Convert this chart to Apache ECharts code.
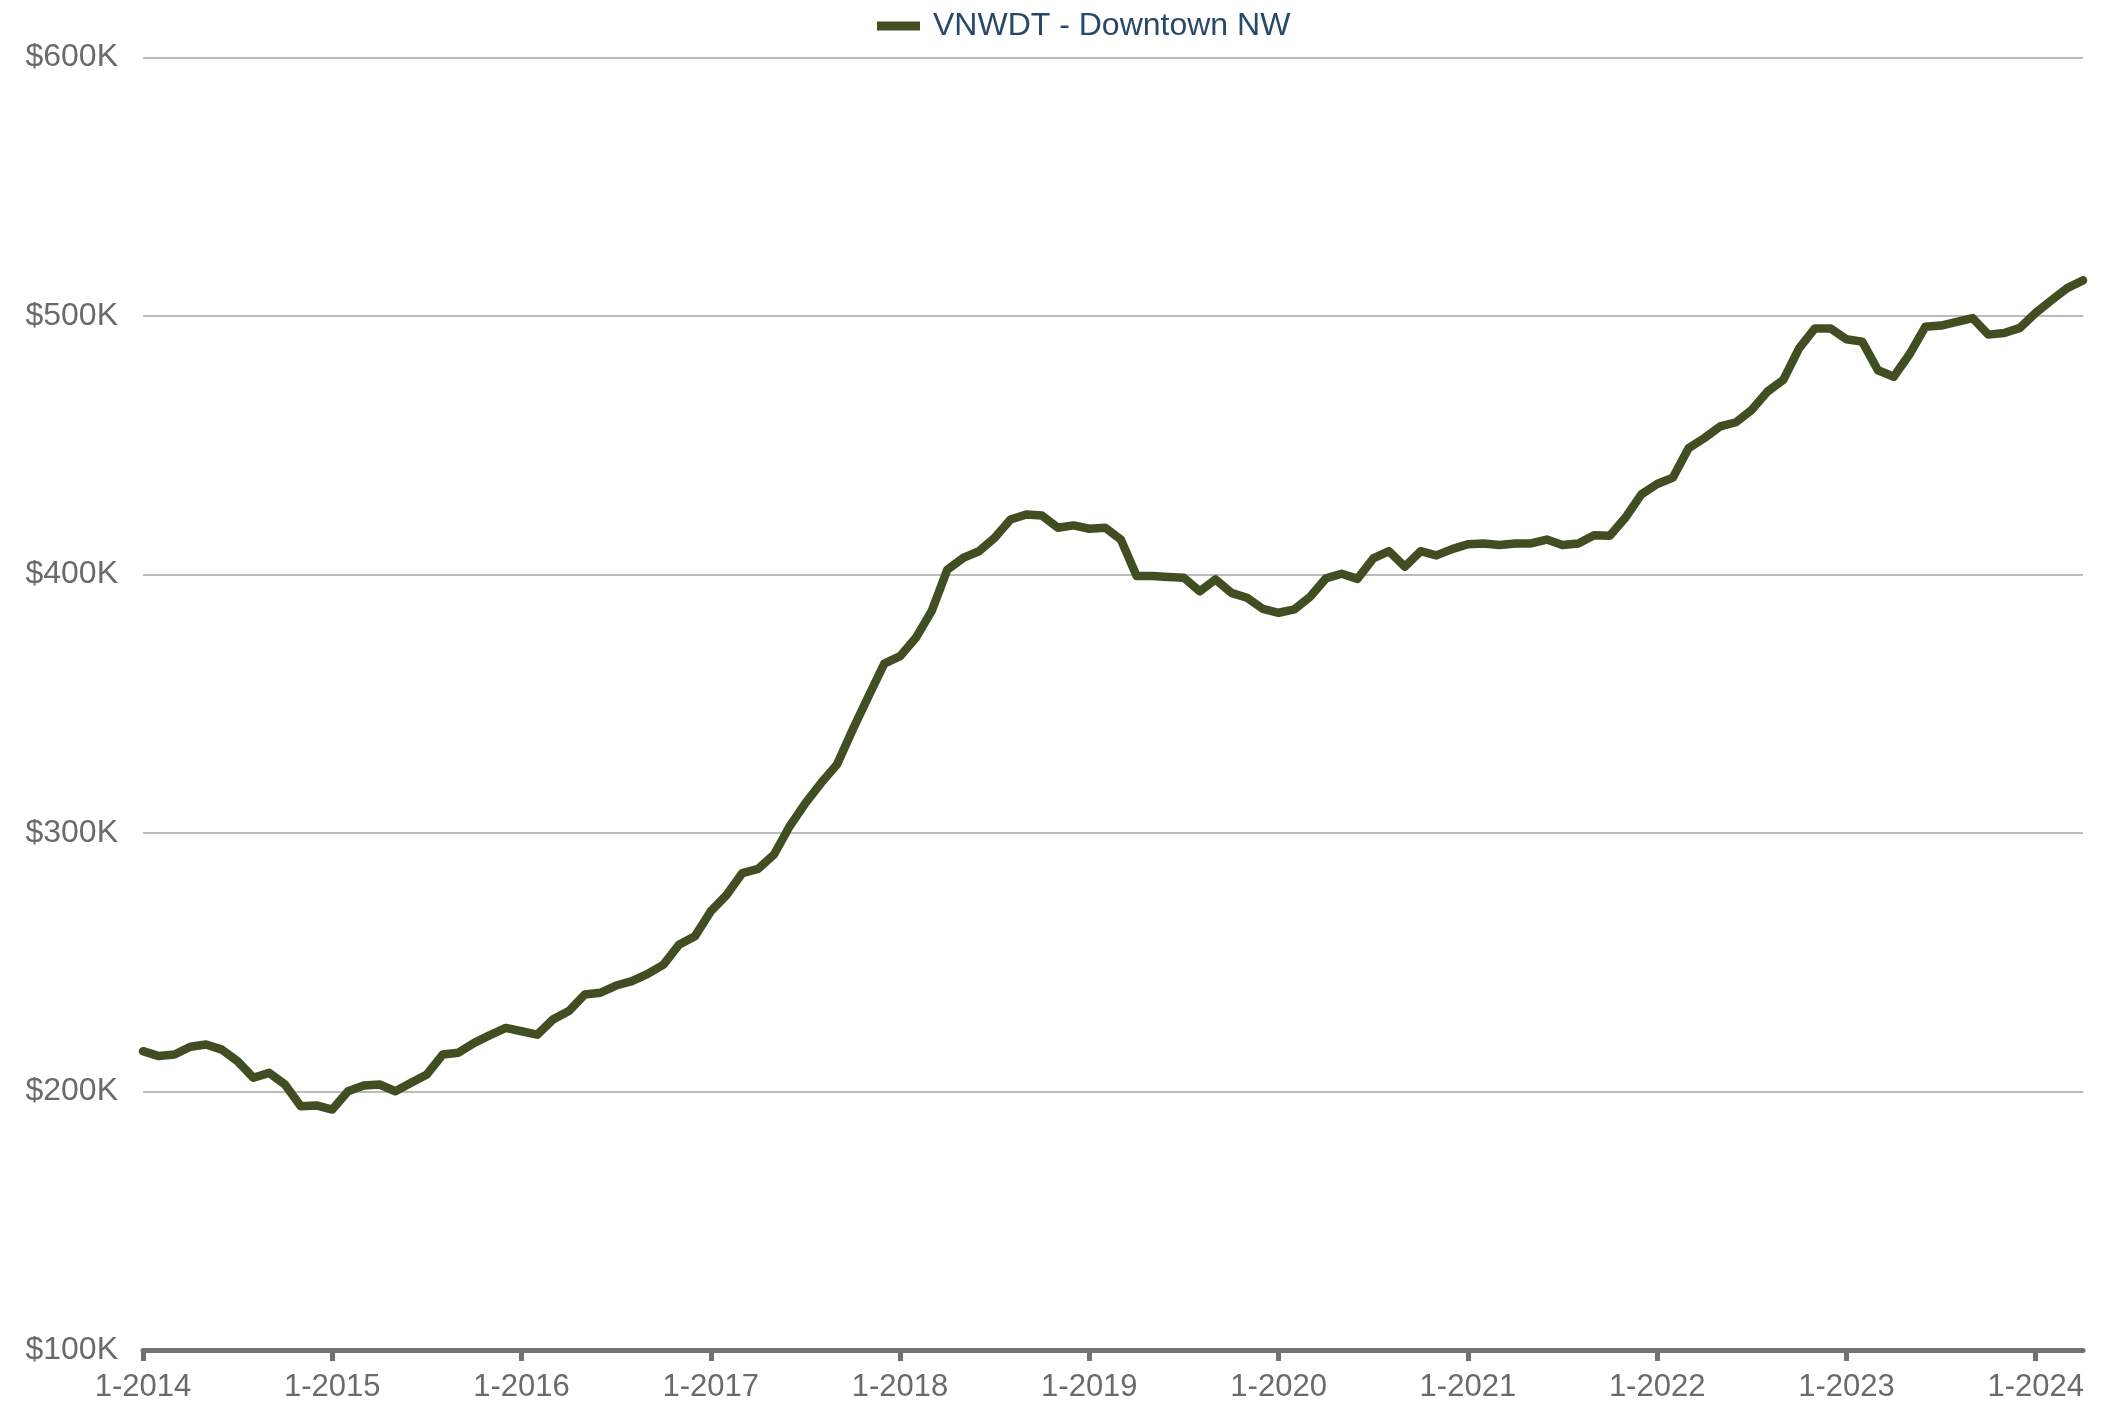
<!DOCTYPE html>
<html>
<head>
<meta charset="utf-8">
<style>
  html, body { margin: 0; padding: 0; background: #ffffff; }
  #chart { width: 2102px; height: 1410px; }
</style>
<script src="https://cdn.jsdelivr.net/npm/echarts@6/dist/echarts.min.js"></script>
</head>
<body>
<div id="chart"></div>
<script>
// Months from 1-2014 through 4-2024
const years = [2014, 2015, 2016, 2017, 2018, 2019, 2020, 2021, 2022, 2023, 2024];
const lastMonth2024 = 4;
const categories = [];
years.forEach(y => {
  const maxM = (y === 2024) ? lastMonth2024 : 12;
  for (let m = 1; m <= maxM; m++) categories.push(m + '-' + y);
});

const seriesName = 'VNWDT - Downtown NW';

// Values in thousands of dollars
const values2014 = [215.6, 213.7, 214.3, 217.3, 218.2, 216.2, 211.7, 205.3, 207.2, 202.7, 194.3, 194.6];
const values2015 = [193.0, 200.1, 202.3, 202.7, 200.1, 203.4, 206.6, 214.3, 215.0, 218.8, 221.8, 224.6];
const values2016 = [223.3, 222.0, 227.9, 231.1, 237.5, 238.2, 241.0, 242.7, 245.5, 249.1, 256.9, 260.1];
const values2017 = [269.7, 276.0, 284.5, 286.1, 291.6, 302.6, 311.6, 319.4, 326.5, 340.0, 352.9, 365.5];
const values2018 = [368.4, 375.5, 385.8, 401.9, 406.4, 409.0, 414.2, 421.3, 423.2, 422.8, 418.1, 419.0];
const values2019 = [417.7, 418.1, 413.5, 399.4, 399.4, 399.0, 398.7, 393.5, 398.1, 392.9, 391.0, 386.7];
const values2020 = [385.2, 386.5, 391.4, 398.5, 400.3, 398.3, 406.2, 409.0, 403.0, 409.0, 407.4, 409.8];
const values2021 = [411.7, 412.0, 411.4, 412.0, 412.0, 413.5, 411.4, 412.0, 415.2, 415.0, 422.1, 431.0];
const values2022 = [435.0, 437.5, 448.9, 452.8, 457.3, 458.9, 463.7, 470.8, 475.3, 487.5, 495.2, 495.2];
const values2023 = [491.0, 490.1, 479.0, 476.5, 485.2, 495.8, 496.3, 497.7, 499.2, 492.8, 493.4, 495.4];
const values2024 = [501.2, 506.1, 510.8, 513.8];

const valuesK = [].concat(values2014, values2015, values2016, values2017, values2018,
  values2019, values2020, values2021, values2022, values2023, values2024);
const seriesValues = valuesK.map(v => Math.round(v * 1000));

const yMin = 100000, yMax = 600000, yStep = 100000;

const chart = echarts.init(document.getElementById('chart'), null, { renderer: 'canvas' });
const font = 'Liberation Sans, Arial, sans-serif';

chart.setOption({
  backgroundColor: '#ffffff',
  animation: false,
  legend: {
    data: [seriesName],
    left: 872,
    top: 5,
    icon: 'rect',
    itemWidth: 43,
    itemHeight: 9,
    textStyle: {
      fontFamily: font,
      fontSize: 32,
      color: '#28486b',
      padding: [0, 0, 0, 8]
    }
  },
  grid: {
    left: 143,
    right: 19,
    top: 57.5,
    bottom: 60,
    containLabel: false
  },
  xAxis: {
    type: 'category',
    data: categories,
    boundaryGap: false,
    axisLine: { show: true, lineStyle: { color: '#727272', width: 5 } },
    axisTick: {
      show: true,
      interval: 11,
      length: 11,
      lineStyle: { color: '#727272', width: 5 }
    },
    axisLabel: {
      interval: 11,
      margin: 22,
      fontFamily: font,
      fontSize: 31,
      color: '#6a6a6a'
    },
    splitLine: { show: false }
  },
  yAxis: {
    type: 'value',
    min: yMin,
    max: yMax,
    interval: yStep,
    axisLine: { show: false },
    axisTick: { show: false },
    axisLabel: {
      margin: 25,
      fontFamily: font,
      fontSize: 32,
      color: '#6a6a6a',
      formatter: v => '$' + (v / 1000) + 'K'
    },
    splitLine: { show: true, lineStyle: { color: '#bcbcbc', width: 2 } }
  },
  series: [{
    name: seriesName,
    type: 'line',
    data: seriesValues,
    showSymbol: false,
    symbol: 'none',
    lineStyle: { color: '#414e22', width: 8.5, cap: 'round', join: 'round' },
    itemStyle: { color: '#414e22' }
  }]
});
</script>
</body>
</html>
